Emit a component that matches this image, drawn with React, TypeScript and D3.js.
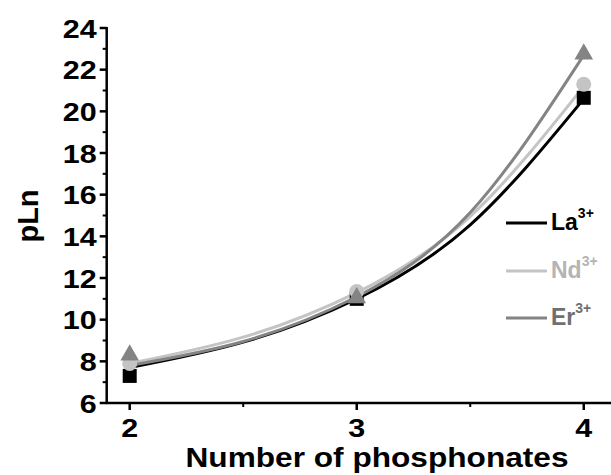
import React from "react";
import * as d3 from "d3";

const W = 611, H = 475;
const xPoints = [2, 3, 4];
const laValues = [7.3, 11.0, 20.65];
const ndValues = [7.9, 11.35, 21.3];
const erValues = [8.3, 11.05, 22.75];
const fitX = [2, 2.5, 3, 3.5, 4];
const laFit = [7.7, 8.92, 11.0, 14.55, 20.6];
const ndFit = [7.9, 9.16, 11.3, 14.96, 21.2];
const erFit = [7.8, 8.95, 11.1, 15.14, 22.7];
const yTicks = [6, 8, 10, 12, 14, 16, 18, 20, 22, 24];
const yMinor = [7, 9, 11, 13, 15, 17, 19, 21, 23];
const xTicks = [2, 3, 4];
const xMinor = [2.5, 3.5];

const series = [
  { name: "La", values: laValues, fit: laFit, color: "#000000", text: "#000000", shape: "square" },
  { name: "Nd", values: ndValues, fit: ndFit, color: "#c4c4c4", text: "#b4b4b4", shape: "circle" },
  { name: "Er", values: erValues, fit: erFit, color: "#848484", text: "#707070", shape: "triangle" },
];

const FONT = "'Liberation Sans', Arial, sans-serif";

export default function App() {
  const x = d3.scaleLinear().domain([1.9, 4.12]).range([107, 611]);
  const y = d3.scaleLinear().domain([6, 24]).range([403, 28]);
  const x0 = x(2) - 23;
  const line = d3
    .line<number>()
    .x((_, i) => x(fitX[i]))
    .y((d) => y(d))
    .curve(d3.curveNatural);
  const tri = d3.symbol().type(d3.symbolTriangle).size(150)();
  const legendY = [223, 271, 318];

  return (
    <svg width={W} height={H} style={{ position: "absolute", left: 0, top: 0 }} fontFamily={FONT}>
      <rect width={W} height={H} fill="#fff" />
      {series.map((s) => (
        <path key={s.name + "l"} d={line(s.fit) || ""} fill="none" stroke={s.color} strokeWidth={3} />
      ))}
      {series.map((s) =>
        s.values.map((v, i) => {
          const cx = x(xPoints[i]);
          const cy = y(v);
          if (s.shape === "square")
            return <rect key={s.name + i} x={cx - 7} y={cy - 7} width={14} height={14} fill={s.color} />;
          if (s.shape === "circle")
            return <circle key={s.name + i} cx={cx} cy={cy} r={7.5} fill={s.color} />;
          return <path key={s.name + i} d={tri || ""} transform={`translate(${cx},${cy})`} fill={s.color} />;
        })
      )}
      {/* axes */}
      <line x1={x0} x2={x0} y1={y(24) - 1} y2={y(6) + 1} stroke="#000" strokeWidth={2.5} />
      <line x1={x0 - 1} x2={611} y1={y(6)} y2={y(6)} stroke="#000" strokeWidth={2.5} />
      {yTicks.map((t) => (
        <g key={"yt" + t}>
          <line x1={x0 - 7} x2={x0} y1={y(t)} y2={y(t)} stroke="#000" strokeWidth={2.5} />
          <text
            transform={`translate(${x0 - 10},${y(t)}) scale(1.15,1)`}
            dy="0.36em"
            textAnchor="end"
            fontSize={26.5}
            fontWeight="bold"
          >
            {t}
          </text>
        </g>
      ))}
      {yMinor.map((t) => (
        <line key={"ym" + t} x1={x0 - 4} x2={x0} y1={y(t)} y2={y(t)} stroke="#000" strokeWidth={2} />
      ))}
      {xTicks.map((t) => (
        <g key={"xt" + t}>
          <line x1={x(t)} x2={x(t)} y1={y(6)} y2={y(6) + 7} stroke="#000" strokeWidth={2.5} />
          <text
            transform={`translate(${x(t)},${y(6) + 34}) scale(1.15,1)`}
            textAnchor="middle"
            fontSize={26.5}
            fontWeight="bold"
          >
            {t}
          </text>
        </g>
      ))}
      {xMinor.map((t) => (
        <line key={"xm" + t} x1={x(t)} x2={x(t)} y1={y(6)} y2={y(6) + 4} stroke="#000" strokeWidth={2} />
      ))}
      <text
        x={377}
        y={467}
        textAnchor="middle"
        fontSize={28}
        fontWeight="bold"
        textLength={383}
        lengthAdjust="spacingAndGlyphs"
      >
        Number of phosphonates
      </text>
      <text
        transform={`translate(38,216) rotate(-90)`}
        textAnchor="middle"
        fontSize={29}
        fontWeight="bold"
        textLength={53}
        lengthAdjust="spacingAndGlyphs"
      >
        pLn
      </text>
      {series.map((s, i) => (
        <g key={"lg" + s.name}>
          <line x1={506} x2={547} y1={legendY[i]} y2={legendY[i]} stroke={s.color} strokeWidth={3} />
          <text x={551} y={legendY[i] + 7} fontSize={23} fontWeight="bold" fill={s.text}>
            {s.name}
            <tspan fontSize={14} dy={-12}>3+</tspan>
          </text>
        </g>
      ))}
    </svg>
  );
}
